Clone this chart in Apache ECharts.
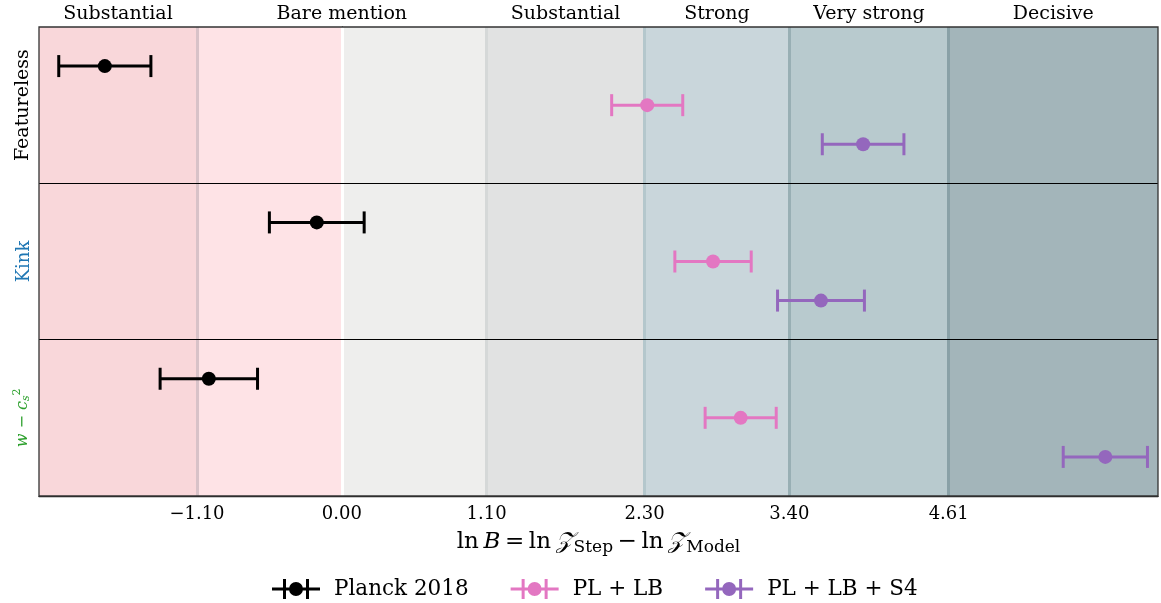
<!DOCTYPE html>
<html><head><meta charset="utf-8">
<script src="https://cdn.jsdelivr.net/npm/echarts@6/dist/echarts.min.js"></script>
<style>html,body{margin:0;padding:0;background:#fff}#c{width:1161px;height:603px}</style>
</head><body><div id="c"></div>
<script>
// ---- data ----
const models = ['Featureless', 'Kink', 'w - c_s^2'];
const seriesNames = ['Planck 2018', 'PL + LB', 'PL + LB + S4'];
// ln B central values per model (rows) per dataset
const planckVals = [-1.80, -0.19, -1.01];
const planckErr  = [0.35, 0.36, 0.37];
const plLbVals   = [2.32, 2.82, 3.03];
const plLbErr    = [0.27, 0.29, 0.27];
const plLbS4Vals = [3.96, 3.64, 5.80];
const plLbS4Err  = [0.31, 0.33, 0.32];
const tickValues = [-1.10, 0.00, 1.10, 2.30, 3.40, 4.61];
const bandEdges  = [-2.3, -1.10, 0.00, 1.10, 2.30, 3.40, 4.61, 6.2];
const bandLabels = ['Substantial', 'Bare mention', 'Substantial', 'Strong', 'Very strong', 'Decisive'];
const headerRanges = [[-2.3, -1.10], [-1.10, 1.10], [1.10, 2.30], [2.30, 3.40], [3.40, 4.61], [4.61, 6.2]];

const bandColors = ['#f9d7da', '#fee3e6', '#eeeeed', '#e1e2e2', '#c9d6db', '#b8cace', '#a3b5ba'];
const edgeColors = ['#d8c2c8', '#ffffff', '#d5d8d8', '#b4c7cc', '#98afb4', '#89a1a7'];
const colors = ['#000000', '#e377c2', '#9467bd'];
const FONT = '"DejaVu Serif", serif';

const allVals = [planckVals, plLbVals, plLbS4Vals];
const allErrs = [planckErr, plLbErr, plLbS4Err];

function mkData(k) {
  return allVals[k].map((v, i) => [v, i + (k + 1) / 4, v - allErrs[k][i], v + allErrs[k][i]]);
}

function renderErr(params, api) {
  const c = api.coord([api.value(0), api.value(1)]);
  const lo = api.coord([api.value(2), api.value(1)]);
  const hi = api.coord([api.value(3), api.value(1)]);
  const col = api.visual('color');
  const capH = 11;
  const st = { stroke: col, lineWidth: 3 };
  return {
    type: 'group',
    children: [
      { type: 'line', shape: { x1: lo[0], y1: c[1], x2: hi[0], y2: c[1] }, style: st },
      { type: 'line', shape: { x1: lo[0], y1: c[1] - capH, x2: lo[0], y2: c[1] + capH }, style: st },
      { type: 'line', shape: { x1: hi[0], y1: c[1] - capH, x2: hi[0], y2: c[1] + capH }, style: st },
      { type: 'circle', shape: { cx: c[0], cy: c[1], r: 7 }, style: { fill: col } }
    ]
  };
}

const legendIcon = 'path://M0,8.5L48,8.5L48,11.5L0,11.5Z M11,0L14,0L14,20L11,20Z M34,0L37,0L37,20L34,20Z M31,10A7,7 0 1 1 17,10A7,7 0 1 1 31,10Z';

const series = [];
series.push({
  type: 'line', data: [], silent: true,
  markArea: {
    silent: true,
    label: { show: false },
    data: bandEdges.slice(0, -1).map((e, i) => [
      { xAxis: e, itemStyle: { color: bandColors[i] } },
      { xAxis: bandEdges[i + 1] }
    ])
  },
  markLine: {
    silent: true, symbol: 'none', animation: false,
    label: { show: false },
    data: bandEdges.slice(1, -1).map((e, i) => ({ xAxis: e, lineStyle: { color: edgeColors[i], width: 3, type: 'solid' } }))
      .concat([1, 2].map(v => ({ yAxis: v, lineStyle: { color: '#000', width: 1.2, type: 'solid' } })))
  }
});

seriesNames.forEach((n, k) => {
  series.push({
    name: n, type: 'custom', renderItem: renderErr, data: mkData(k),
    itemStyle: { color: colors[k] }, z: 5, encode: { x: [0, 2, 3], y: 1 }
  });
});

const chart = echarts.init(document.getElementById('c'), null, { renderer: 'canvas' });
chart.setOption({
  animation: false,
  textStyle: { fontFamily: FONT },
  grid: { left: 39, right: 3, top: 27, bottom: 107, show: true, borderColor: '#333', borderWidth: 1.3, z: 10 },
  xAxis: [{
    type: 'value', min: -2.3, max: 6.2,
    splitLine: { show: false },
    axisLine: { show: true, onZero: false, lineStyle: { color: '#222', width: 1.3 } },
    axisTick: { show: false, customValues: tickValues },
    axisLabel: {
      customValues: tickValues, color: '#000', fontSize: 18, fontFamily: FONT, margin: 9,
      formatter: v => (v < 0 ? '\u2212' : '') + Math.abs(v).toFixed(2)
    },
    name: '{n|ln\u2009}{i|B}{n|\u2009=\u2009ln\u2009}{z|\u{1D4B5}}{s|Step}{n|\u2009\u2212\u2009ln\u2009}{z|\u{1D4B5}}{s|Model}',
    nameLocation: 'middle', nameGap: 33,
    nameTextStyle: {
      rich: {
        n: { fontSize: 23, fontFamily: FONT, color: '#000' },
        i: { fontSize: 23, fontFamily: FONT, fontStyle: 'italic', color: '#000' },
        z: { fontSize: 23, fontFamily: FONT, fontStyle: 'italic', color: '#000' },
        s: { fontSize: 17, fontFamily: FONT, color: '#000', padding: [10, 0, 0, 0] }
      }
    }
  }, {
    type: 'value', min: -2.3, max: 6.2, position: 'top',
    axisLine: { show: false }, axisTick: { show: false }, splitLine: { show: false },
    axisLabel: {
      customValues: headerRanges.map(r => (r[0] + r[1]) / 2),
      color: '#000', fontSize: 19, fontFamily: FONT, margin: 3,
      formatter: (v) => {
        const idx = headerRanges.findIndex(r => Math.abs((r[0] + r[1]) / 2 - v) < 1e-6);
        return idx >= 0 ? bandLabels[idx] : '';
      }
    }
  }],
  yAxis: {
    type: 'value', min: 0, max: 3, inverse: true,
    splitLine: { show: false },
    axisLine: { show: true, lineStyle: { color: '#333', width: 1.3 } },
    axisTick: { show: false },
    axisLabel: {
      customValues: [0.5, 1.5, 2.5], rotate: 90, margin: 6,
      formatter: v => {
        const i = Math.round(v - 0.5);
        if (i === 0) return '{a|' + models[0] + '}';
        if (i === 1) return '{b|' + models[1] + '}';
        return '{c|w \u2212 c}{d|s}{e|2}';
      },
      rich: {
        a: { fontSize: 19, fontFamily: FONT, color: '#000' },
        b: { fontSize: 18, fontFamily: FONT, color: '#1f77b4' },
        c: { fontSize: 16, fontFamily: FONT, fontStyle: 'italic', color: '#2ca02c' },
        d: { fontSize: 11, fontFamily: FONT, fontStyle: 'italic', color: '#2ca02c', padding: [8, 0, 0, 0] },
        e: { fontSize: 11, fontFamily: FONT, color: '#2ca02c', padding: [0, 0, 10, 0] }
      }
    }
  },
  legend: {
    top: 573, left: 267, itemWidth: 48, itemHeight: 20, itemGap: 42,
    textStyle: { fontSize: 21.5, fontFamily: FONT, color: '#000', padding: [0, 0, 0, 9] },
    data: seriesNames.map(n => ({ name: n, icon: legendIcon }))
  },
  series: series
});
</script></body></html>
